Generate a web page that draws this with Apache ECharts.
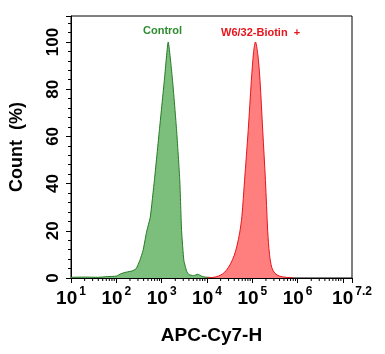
<!DOCTYPE html>
<html>
<head>
<meta charset="utf-8">
<script src="https://cdn.jsdelivr.net/npm/echarts@6/dist/echarts.min.js"></script>
<style>
  html, body { margin: 0; padding: 0; background: #fff; }
  #chart { width: 385px; height: 354px; }
</style>
</head>
<body>
<div id="chart"></div>
<script>
// fluorescence intensity (APC-Cy7-H) and count (%)
var controlX = [10, 20, 40, 63, 100, 126, 166, 224, 275, 331, 389, 457, 501, 562, 692, 891, 1148, 1396,
    1738, 2138, 2512, 2754, 3090, 3548, 3981, 5012, 6310, 7586, 9120, 12589, 19953];
var controlY = [0.3, 0.4, 0.3, 0.6, 0.8, 1.8, 2.5, 3.0, 4.0, 7.5, 11.7, 18.8, 22, 25.8, 41.4, 62.6, 83.8, 100,
    83.8, 62.6, 41.4, 20, 7.5, 3, 1.5, 1.0, 1.6, 0.8, 0.4, 0.2, 0.1];

var biotinX = [10000, 14125, 17783, 22387, 26915, 33113, 39811, 45709, 52481, 58884, 67608, 81283, 95499,
    107152, 117490, 131826, 147911, 169824, 194984, 218776, 239883, 269153, 316228, 398107, 549541, 794328];
var biotinY = [0.1, 0.3, 0.8, 1.8, 3.3, 6, 9.5, 13.5, 19, 26, 41.4, 62.6, 83.8,
    96, 100, 95, 83.8, 62.6, 41.4, 20, 10, 4.5, 2, 0.8, 0.3, 0.1];

var xMin = 10;
var xMax = Math.pow(10, 7.2);

// minor ticks of the log axis (2..9 x each decade)
var minorX = [];
for (var d = 1; d <= 6; d++) {
    for (var k = 2; k <= 9; k++) {
        var v = k * Math.pow(10, d);
        if (v < xMax) minorX.push([v, 0]);
    }
}

function pairs(xs, ys) {
    return xs.map(function (x, i) { return [x, ys[i]]; });
}

var chart = echarts.init(document.getElementById('chart'));
chart.setOption({
    animation: false,
    grid: {
        left: 67, right: 33, top: 16, bottom: 76,
        show: true, borderColor: '#000', borderWidth: 1
    },
    xAxis: {
        type: 'log',
        logBase: 10,
        min: xMin,
        max: xMax,
        name: 'APC-Cy7-H',
        nameLocation: 'middle',
        nameGap: 48,
        nameTextStyle: { fontFamily: 'Liberation Sans', fontWeight: 'bold', fontSize: 19, color: '#000' },
        axisLine: { lineStyle: { color: '#000', width: 1 } },
        axisTick: { inside: false, length: 5, lineStyle: { color: '#000' } },
        splitLine: { show: false },
        axisLabel: {
            margin: 8,
            color: '#000',
            formatter: function (val) {
                var e = Math.round(Math.log10(val) * 10) / 10;
                if (e === 7) return '';
                return '{b|10}{s|' + e + '}';
            },
            rich: {
                b: { fontFamily: 'Liberation Sans', fontWeight: 'bold', fontSize: 19, color: '#000',
                     verticalAlign: 'bottom', lineHeight: 22 },
                s: { fontFamily: 'Liberation Sans', fontWeight: 'bold', fontSize: 12, color: '#000',
                     verticalAlign: 'top', lineHeight: 22, padding: [0, 0, 0, 2] }
            }
        }
    },
    yAxis: {
        type: 'value',
        min: 0,
        max: 111,
        interval: 20,
        name: 'Count  (%)',
        nameLocation: 'middle',
        nameGap: 45,
        nameTextStyle: { fontFamily: 'Liberation Sans', fontWeight: 'bold', fontSize: 18, color: '#000' },
        axisLine: { show: true, lineStyle: { color: '#000', width: 1 } },
        axisTick: { show: true, inside: false, length: 5, lineStyle: { color: '#000' } },
        minorTick: { show: true, splitNumber: 5, length: 3, lineStyle: { color: '#000' } },
        splitLine: { show: false },
        axisLabel: {
            rotate: 90,
            margin: 9,
            showMaxLabel: false,
            fontFamily: 'Liberation Sans',
            fontWeight: 'bold',
            fontSize: 17,
            color: '#000'
        }
    },
    series: [
        {
            name: 'Control',
            type: 'line',
            data: pairs(controlX, controlY),
            showSymbol: false,
            smooth: 0.15,
            lineStyle: { color: '#267a26', width: 1 },
            areaStyle: { color: '#7cbf7c', opacity: 1 },
            z: 2
        },
        {
            name: 'W6/32-Biotin +',
            type: 'line',
            data: pairs(biotinX, biotinY),
            showSymbol: false,
            smooth: 0.3,
            lineStyle: { color: '#e8141c', width: 1 },
            areaStyle: { color: '#ff7f7f', opacity: 1 },
            z: 3
        },
        {
            type: 'custom',
            data: minorX,
            clip: false,
            silent: true,
            z: 5,
            renderItem: function (params, api) {
                var p = api.coord([api.value(0), 0]);
                return {
                    type: 'line',
                    shape: { x1: p[0], y1: p[1], x2: p[0], y2: p[1] + 3 },
                    style: { stroke: '#000', lineWidth: 1 }
                };
            }
        }
    ],
    graphic: [
        {
            type: 'text', left: 143, top: 25,
            style: { text: 'Control', fill: '#2e8b2e', font: 'bold 11px "Liberation Sans"' }
        },
        {
            type: 'text', left: 221, top: 27,
            style: { text: 'W6/32-Biotin  +', fill: '#e8141c', font: 'bold 11px "Liberation Sans"' }
        }
    ]
});
</script>
</body>
</html>
